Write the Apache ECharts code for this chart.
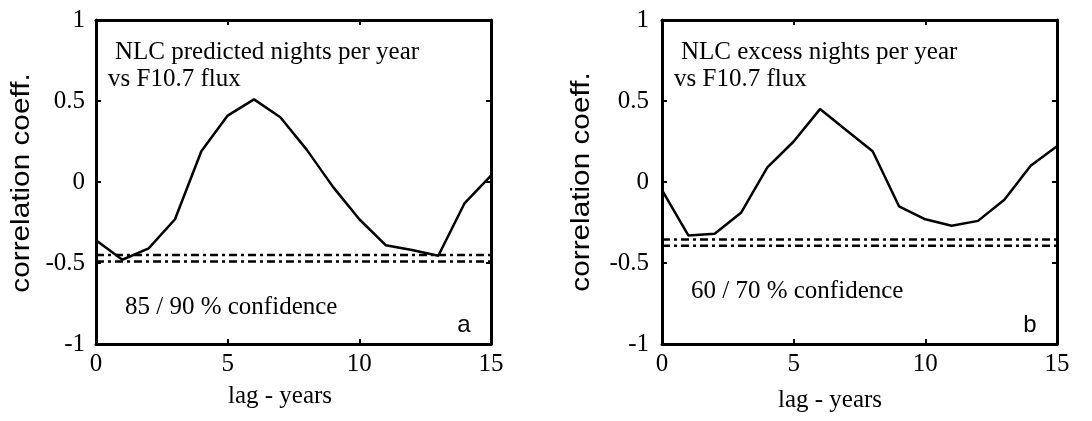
<!DOCTYPE html>
<html>
<head>
<meta charset="utf-8">
<script src="https://cdn.jsdelivr.net/npm/echarts@6/dist/echarts.min.js"></script>
<style>
  html, body { margin: 0; padding: 0; background: #fff; }
  #chart { width: 1092px; height: 421px; }
</style>
</head>
<body>
<div id="chart"></div>
<script>
// Lag in years (x values shared by both panels)
const lags = [0, 1, 2, 3, 4, 5, 6, 7, 8, 9, 10, 11, 12, 13, 14, 15];
// Panel a: NLC predicted nights per year vs F10.7 flux
const predictedCorr = [-0.36, -0.48, -0.41, -0.23, 0.19, 0.41, 0.51, 0.40, 0.20, -0.03, -0.23, -0.39, -0.42, -0.455, -0.13, 0.04];
// Panel b: NLC excess nights per year vs F10.7 flux
const excessCorr = [-0.05, -0.33, -0.32, -0.19, 0.09, 0.25, 0.45, 0.32, 0.19, -0.15, -0.23, -0.27, -0.24, -0.11, 0.10, 0.22];
// Confidence levels drawn as dash-dot lines
const confA = [-0.45, -0.49];   // 85 / 90 %
const confB = [-0.355, -0.393]; // 60 / 70 %
const xTicks = { min: 0, max: 15, interval: 5 };
const yTicks = { min: -1, max: 1, interval: 0.5 };

const SERIF = '"Liberation Serif", "Times New Roman", serif';
const SANS = '"Liberation Sans", Arial, sans-serif';

const pairs = (xs, ys) => xs.map((x, i) => [x, ys[i]]);
const hline = (v) => [[xTicks.min, v], [xTicks.max, v]];

const frameLine = { show: true, onZero: false, lineStyle: { color: '#000', width: 3 } };
const tickIn = { show: true, inside: true, length: 5, lineStyle: { color: '#000', width: 2 } };

function xAxes(grid) {
  return [
    { type: 'value', gridIndex: grid, position: 'bottom', min: xTicks.min, max: xTicks.max, interval: xTicks.interval,
      axisLine: frameLine, axisTick: tickIn, splitLine: { show: false },
      axisLabel: { fontFamily: SERIF, fontSize: 25, color: '#000', margin: 8 } },
    { type: 'value', gridIndex: grid, position: 'top', min: xTicks.min, max: xTicks.max, interval: xTicks.interval,
      axisLine: frameLine, axisTick: tickIn, splitLine: { show: false }, axisLabel: { show: false } }
  ];
}
function yAxes(grid, margin) {
  return [
    { type: 'value', gridIndex: grid, position: 'left', min: yTicks.min, max: yTicks.max, interval: yTicks.interval,
      axisLine: frameLine, axisTick: tickIn, splitLine: { show: false },
      axisLabel: { fontFamily: SERIF, fontSize: 25, color: '#000', margin: margin } },
    { type: 'value', gridIndex: grid, position: 'right', min: yTicks.min, max: yTicks.max, interval: yTicks.interval,
      axisLine: frameLine, axisTick: tickIn, splitLine: { show: false }, axisLabel: { show: false } }
  ];
}

function curve(axisIdx, values) {
  return { type: 'line', xAxisIndex: axisIdx, yAxisIndex: axisIdx, data: pairs(lags, values),
    symbol: 'none', lineStyle: { color: '#000', width: 2.5 }, z: 3 };
}
function confLine(axisIdx, v) {
  return { type: 'line', xAxisIndex: axisIdx, yAxisIndex: axisIdx, data: hline(v),
    symbol: 'none', lineStyle: { color: '#000', width: 2.5, type: [8, 4, 3, 4] }, z: 2 };
}

function label(text, x, y, opts) {
  return Object.assign({ type: 'text', x: x, y: y, silent: true,
    style: Object.assign({ text: text, fill: '#000', font: '25px ' + SERIF, verticalAlign: 'middle', align: 'left' }, opts || {}) });
}
function yName(x, y) {
  return { type: 'text', x: x, y: y, rotation: Math.PI / 2, scaleX: 1.19, silent: true,
    style: { text: 'correlation coeff.', fill: '#000', font: '25px ' + SANS, align: 'center', verticalAlign: 'middle' } };
}

const chart = echarts.init(document.getElementById('chart'), null, { renderer: 'canvas' });
chart.setOption({
  animation: false,
  backgroundColor: '#fff',
  grid: [
    { left: 96, top: 20, width: 395, height: 324 },
    { left: 662, top: 20, width: 395, height: 324 }
  ],
  xAxis: [...xAxes(0), ...xAxes(1)],
  yAxis: [...yAxes(0, 11), ...yAxes(1, 13)],
  series: [
    curve(0, predictedCorr),
    confLine(0, confA[0]), confLine(0, confA[1]),
    curve(2, excessCorr),
    confLine(2, confB[0]), confLine(2, confB[1])
  ],
  graphic: [
    label('NLC predicted nights per year', 115, 52),
    label('vs F10.7 flux', 108, 79),
    label('85 / 90 % confidence', 125, 307),
    label('a', 464, 325, { font: '24px ' + SANS, align: 'center' }),
    label('lag - years', 280, 396, { align: 'center' }),
    yName(22, 183),

    label('NLC excess nights per year', 681, 52),
    label('vs F10.7 flux', 674, 79),
    label('60 / 70 % confidence', 691, 291),
    label('b', 1030, 325, { font: '24px ' + SANS, align: 'center' }),
    label('lag - years', 830, 400, { align: 'center' }),
    yName(582, 182)
  ]
});
</script>
</body>
</html>
